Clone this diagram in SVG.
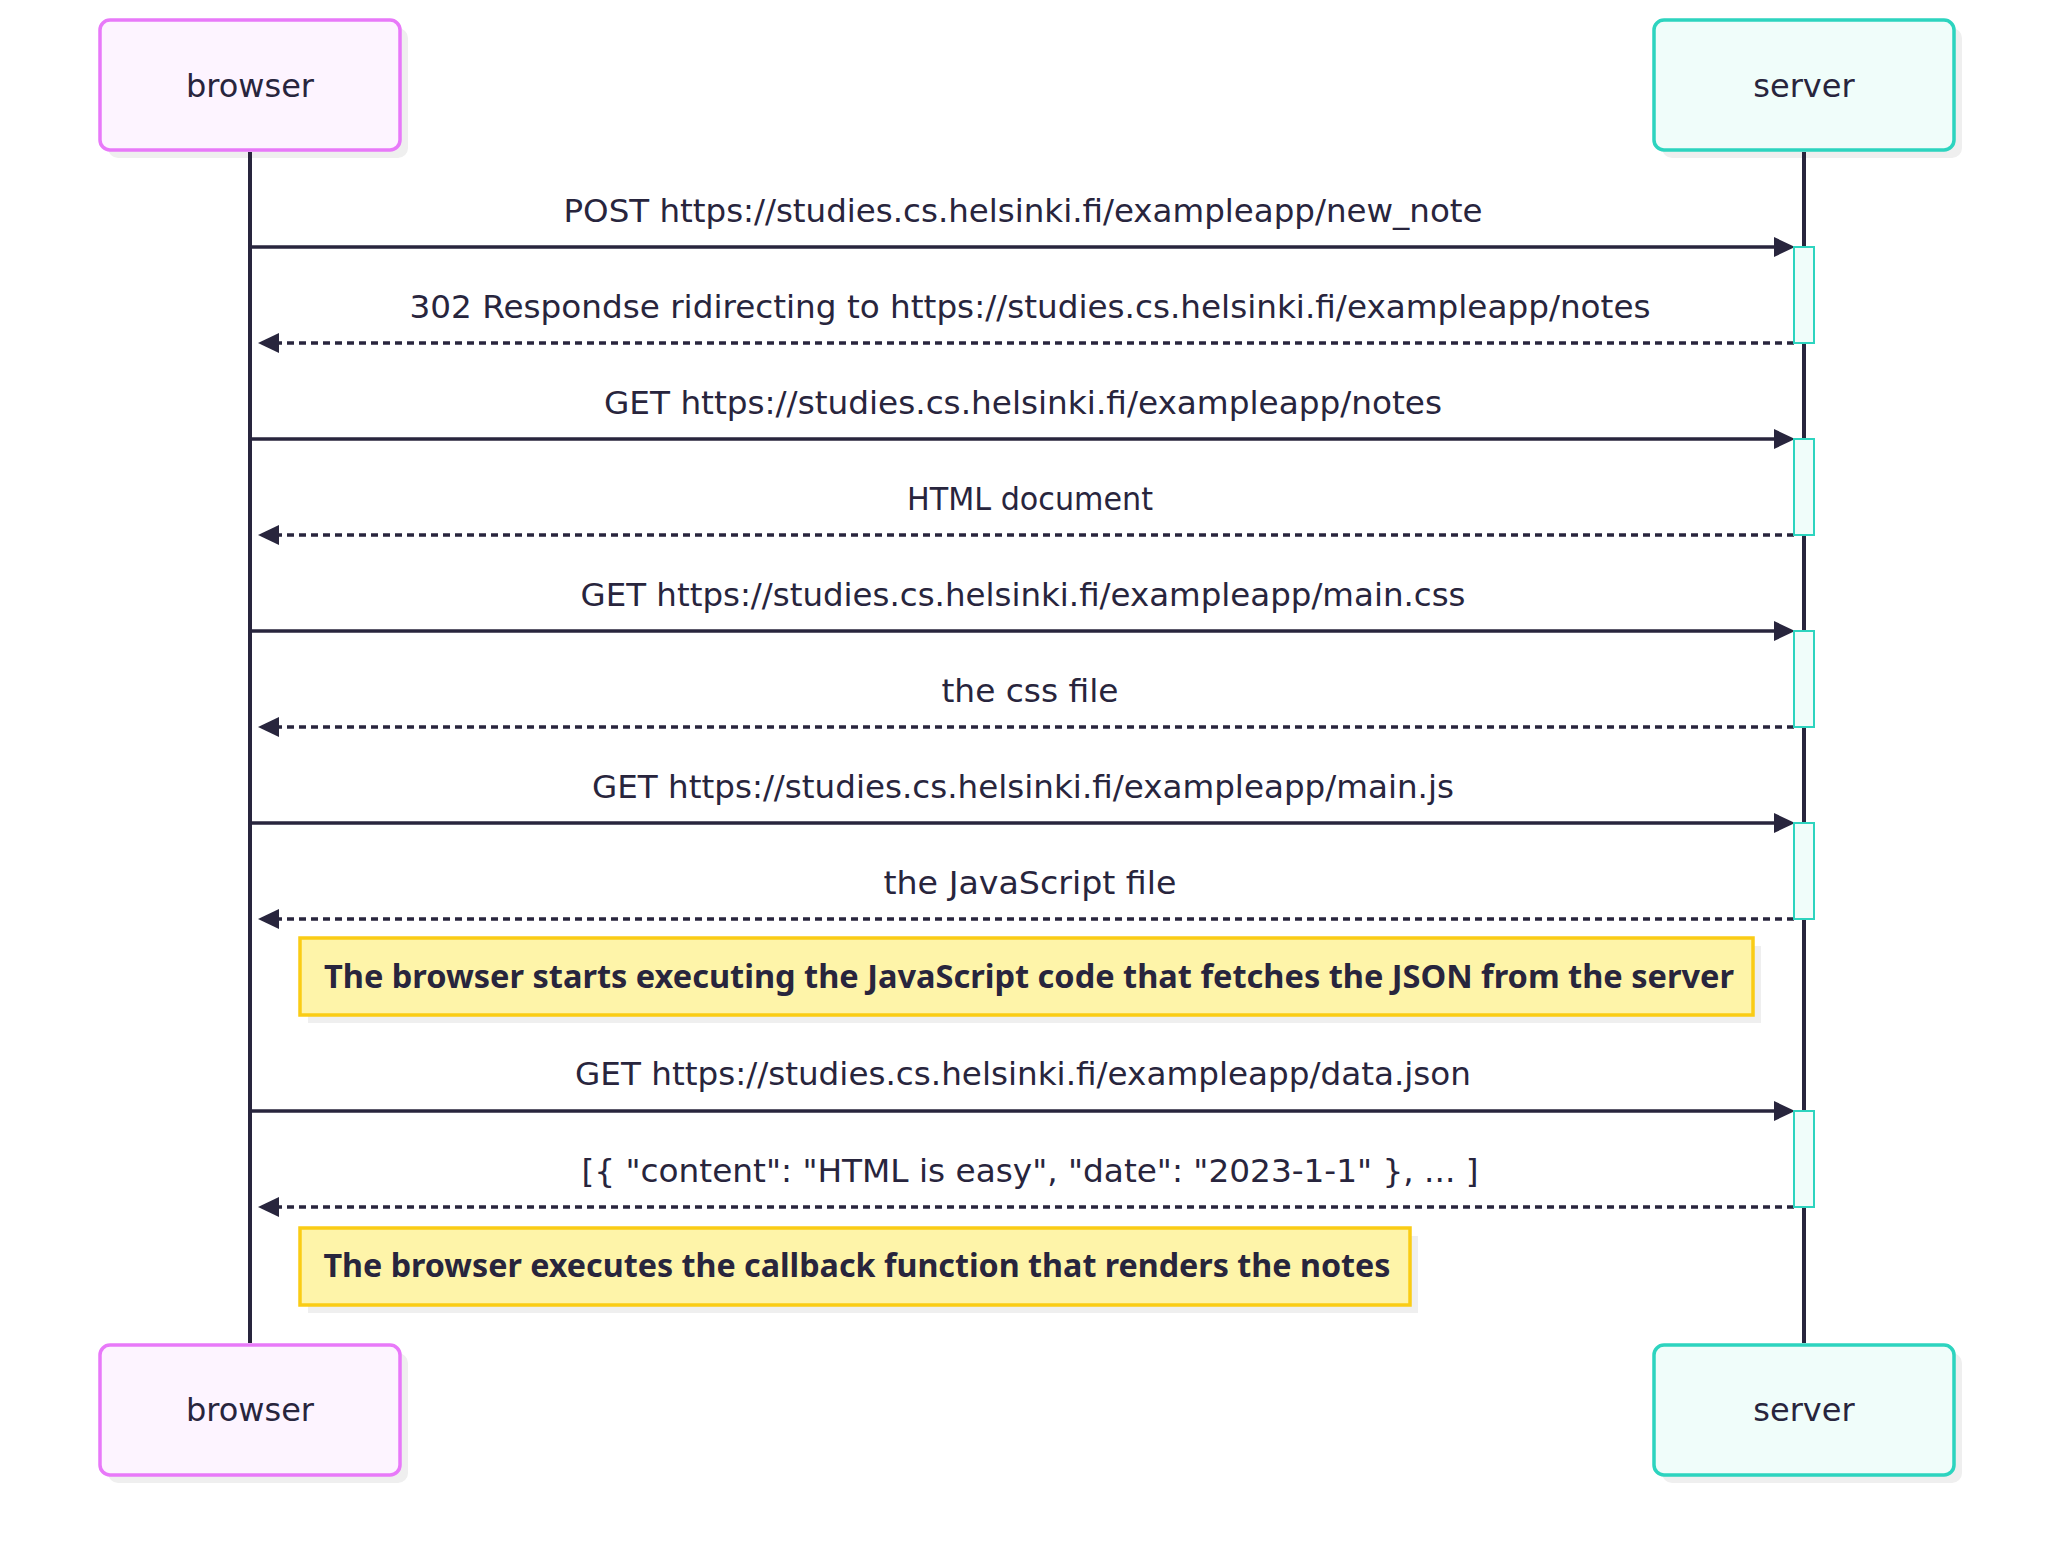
<svg xmlns="http://www.w3.org/2000/svg" width="2054" height="1558" viewBox="0 0 2054 1558">
<style>
  .bg{fill:#ffffff}
  .shadow{fill:#efefef}
  .actor-b{fill:#fdf4ff;stroke:#e879f9;stroke-width:3.5}
  .actor-s{fill:#f0fdfa;stroke:#2dd4bf;stroke-width:3.5}
  .actor-text{font-family:"DejaVu Sans","Noto Sans",sans-serif;font-size:32px;fill:#28253d;text-anchor:middle}
  .life{stroke:#28253d;stroke-width:4;fill:none}
  .msg{stroke:#28253d;stroke-width:3.5;fill:none}
  .dash{stroke-dasharray:7 5}
  .msg-text{font-family:"DejaVu Sans","Noto Sans",sans-serif;font-size:32px;fill:#28253d;text-anchor:middle}
  .act{fill:#f0fdfa;stroke:#2dd4bf;stroke-width:2}
  .note{fill:#fef4a9;stroke:#facc15;stroke-width:3.5}
  .note-text{font-family:"Noto Sans","Liberation Sans",sans-serif;font-weight:bold;font-size:32px;fill:#28253d;text-anchor:middle}
</style>
<defs>
  <marker id="arrow" markerUnits="userSpaceOnUse" viewBox="0 0 21 20" refX="16" refY="10" markerWidth="21" markerHeight="20" orient="auto">
    <path d="M0,0 L21,10 L0,20 z" fill="#28253d"/>
  </marker>
</defs>
<rect class="bg" x="0" y="0" width="2054" height="1558"/>

<g id="actor-browser-top">
  <rect class="shadow" x="108" y="28" width="300" height="130" rx="10"/>
  <rect class="actor-b" x="100" y="20" width="300" height="130" rx="10"/>
  <text class="actor-text" x="250" y="97">browser</text>
</g>
<g id="actor-server-top">
  <rect class="shadow" x="1662" y="28" width="300" height="130" rx="10"/>
  <rect class="actor-s" x="1654" y="20" width="300" height="130" rx="10"/>
  <text class="actor-text" x="1804" y="97">server</text>
</g>
<g id="actor-browser-bottom">
  <rect class="shadow" x="108" y="1353" width="300" height="130" rx="10"/>
  <rect class="actor-b" x="100" y="1345" width="300" height="130" rx="10"/>
  <text class="actor-text" x="250" y="1421">browser</text>
</g>
<g id="actor-server-bottom">
  <rect class="shadow" x="1662" y="1353" width="300" height="130" rx="10"/>
  <rect class="actor-s" x="1654" y="1345" width="300" height="130" rx="10"/>
  <text class="actor-text" x="1804" y="1421">server</text>
</g>

<g id="connectors">
  <line class="life" x1="250" y1="152" x2="250" y2="1343"/>
  <line class="life" x1="1804" y1="152" x2="1804" y2="1343"/>

  <line class="msg" x1="250" y1="247" x2="1790" y2="247" marker-end="url(#arrow)"/>
  <text class="msg-text" x="1023" y="222" textLength="919" lengthAdjust="spacingAndGlyphs">POST https://studies.cs.helsinki.fi/exampleapp/new_note</text>

  <line class="msg dash" x1="1794" y1="343" x2="263" y2="343" marker-end="url(#arrow)"/>
  <text class="msg-text" x="1030" y="318" textLength="1241" lengthAdjust="spacingAndGlyphs">302 Respondse ridirecting to https://studies.cs.helsinki.fi/exampleapp/notes</text>

  <line class="msg" x1="250" y1="439" x2="1790" y2="439" marker-end="url(#arrow)"/>
  <text class="msg-text" x="1023" y="414" textLength="838" lengthAdjust="spacingAndGlyphs">GET https://studies.cs.helsinki.fi/exampleapp/notes</text>

  <line class="msg dash" x1="1794" y1="535" x2="263" y2="535" marker-end="url(#arrow)"/>
  <text class="msg-text" x="1030" y="510" textLength="246" lengthAdjust="spacingAndGlyphs">HTML document</text>

  <line class="msg" x1="250" y1="631" x2="1790" y2="631" marker-end="url(#arrow)"/>
  <text class="msg-text" x="1023" y="606" textLength="885" lengthAdjust="spacingAndGlyphs">GET https://studies.cs.helsinki.fi/exampleapp/main.css</text>

  <line class="msg dash" x1="1794" y1="727" x2="263" y2="727" marker-end="url(#arrow)"/>
  <text class="msg-text" x="1030" y="702" textLength="177" lengthAdjust="spacingAndGlyphs">the css file</text>

  <line class="msg" x1="250" y1="823" x2="1790" y2="823" marker-end="url(#arrow)"/>
  <text class="msg-text" x="1023" y="798" textLength="862" lengthAdjust="spacingAndGlyphs">GET https://studies.cs.helsinki.fi/exampleapp/main.js</text>

  <line class="msg dash" x1="1794" y1="919" x2="263" y2="919" marker-end="url(#arrow)"/>
  <text class="msg-text" x="1030" y="894" textLength="293" lengthAdjust="spacingAndGlyphs">the JavaScript file</text>

  <line class="msg" x1="250" y1="1111" x2="1790" y2="1111" marker-end="url(#arrow)"/>
  <text class="msg-text" x="1023" y="1085" textLength="896" lengthAdjust="spacingAndGlyphs">GET https://studies.cs.helsinki.fi/exampleapp/data.json</text>

  <line class="msg dash" x1="1794" y1="1207" x2="263" y2="1207" marker-end="url(#arrow)"/>
  <text class="msg-text" x="1030" y="1182" textLength="897" lengthAdjust="spacingAndGlyphs">[{ "content": "HTML is easy", "date": "2023-1-1" }, ... ]</text>
</g>

<g id="activations">
  <rect class="act" x="1794" y="247" width="20" height="96"/>
  <rect class="act" x="1794" y="439" width="20" height="96"/>
  <rect class="act" x="1794" y="631" width="20" height="96"/>
  <rect class="act" x="1794" y="823" width="20" height="96"/>
  <rect class="act" x="1794" y="1111" width="20" height="96"/>
</g>

<g id="note-1">
  <rect class="shadow" x="308" y="946" width="1453" height="77"/>
  <rect class="note" x="300" y="938" width="1453" height="77"/>
  <text class="note-text" x="1029" y="988" textLength="1410" lengthAdjust="spacingAndGlyphs">The browser starts executing the JavaScript code that fetches the JSON from the server</text>
</g>

<g id="note-2">
  <rect class="shadow" x="308" y="1236" width="1110" height="77"/>
  <rect class="note" x="300" y="1228" width="1110" height="77"/>
  <text class="note-text" x="857" y="1277" textLength="1067" lengthAdjust="spacingAndGlyphs">The browser executes the callback function that renders the notes</text>
</g>
</svg>
